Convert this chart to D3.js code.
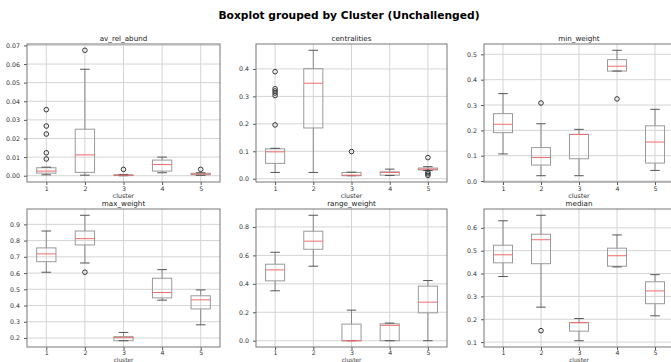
<!DOCTYPE html>
<html>
<head>
<meta charset="utf-8">
<script src="https://cdn.jsdelivr.net/npm/d3@7"></script>
<style>
  body { margin: 0; background: #fff; }
  svg { display: block; font-family: "DejaVu Sans", sans-serif; }
</style>
</head>
<body>
<div id="graphic"></div>
<script>
// clusters on the x axis of every panel
const clusters = [1, 2, 3, 4, 5];

// per cluster: [whisker low, q1, median, q3, whisker high]
const avRelAbund = [
  [0.0005, 0.0014, 0.0025, 0.0043, 0.0046],
  [0.0003, 0.0018, 0.0112, 0.0250, 0.0572],
  [0.0000, 0.0001, 0.0003, 0.0005, 0.0007],
  [0.0016, 0.0025, 0.0060, 0.0084, 0.0100],
  [0.0002, 0.0005, 0.0009, 0.0013, 0.0016]
];
const avRelAbundOut = [[0.0090, 0.0123, 0.0224, 0.0267, 0.0355], [0.0674], [0.0034], [], [0.0034]];

const centralities = [
  [0.023, 0.056, 0.098, 0.109, 0.111],
  [0.023, 0.185, 0.348, 0.401, 0.468],
  [0.011, 0.011, 0.013, 0.023, 0.024],
  [0.012, 0.013, 0.023, 0.025, 0.035],
  [0.030, 0.032, 0.035, 0.039, 0.044]
];
const centralitiesOut = [[0.196, 0.303, 0.312, 0.320, 0.328, 0.390], [], [0.099], [], [0.077, 0.024, 0.018, 0.012]];

const minWeight = [
  [0.107, 0.191, 0.224, 0.266, 0.345],
  [0.021, 0.063, 0.093, 0.132, 0.226],
  [0.021, 0.088, 0.184, 0.184, 0.204],
  [0.434, 0.434, 0.453, 0.479, 0.516],
  [0.042, 0.071, 0.154, 0.218, 0.283]
];
const minWeightOut = [[], [0.308], [], [0.324], []];

const maxWeight = [
  [0.605, 0.670, 0.718, 0.755, 0.859],
  [0.662, 0.773, 0.812, 0.859, 0.956],
  [0.183, 0.183, 0.202, 0.208, 0.234],
  [0.433, 0.447, 0.480, 0.568, 0.621],
  [0.281, 0.379, 0.435, 0.460, 0.496]
];
const maxWeightOut = [[], [0.605], [], [], []];

const rangeWeight = [
  [0.351, 0.421, 0.498, 0.538, 0.622],
  [0.524, 0.643, 0.700, 0.770, 0.882],
  [0.000, 0.000, 0.000, 0.117, 0.215],
  [0.000, 0.000, 0.108, 0.119, 0.124],
  [0.000, 0.196, 0.271, 0.384, 0.423]
];
const rangeWeightOut = [[], [], [], [], []];

const medianW = [
  [0.387, 0.447, 0.482, 0.524, 0.631],
  [0.253, 0.443, 0.548, 0.572, 0.655],
  [0.106, 0.148, 0.185, 0.185, 0.203],
  [0.429, 0.432, 0.478, 0.511, 0.569],
  [0.215, 0.268, 0.324, 0.364, 0.395]
];
const medianWOut = [[], [0.150], [], [], []];

// tick labels of each panel's y axis
const ticksAbund = [0, 0.01, 0.02, 0.03, 0.04, 0.05, 0.06, 0.07];
const ticksCentral = [0, 0.1, 0.2, 0.3, 0.4];
const ticksMin = [0, 0.1, 0.2, 0.3, 0.4, 0.5];
const ticksMax = [0.2, 0.3, 0.4, 0.5, 0.6, 0.7, 0.8, 0.9];
const ticksRange = [0, 0.2, 0.4, 0.6, 0.8];
const ticksMedian = [0.1, 0.2, 0.3, 0.4, 0.5, 0.6];

const titles = ["av_rel_abund", "centralities", "min_weight", "max_weight", "range_weight", "median"];

const panels = [
  { stats: avRelAbund, out: avRelAbundOut, ticks: ticksAbund, fmt: d3.format(".2f") },
  { stats: centralities, out: centralitiesOut, ticks: ticksCentral, fmt: d3.format(".1f") },
  { stats: minWeight, out: minWeightOut, ticks: ticksMin, fmt: d3.format(".1f") },
  { stats: maxWeight, out: maxWeightOut, ticks: ticksMax, fmt: d3.format(".1f") },
  { stats: rangeWeight, out: rangeWeightOut, ticks: ticksRange, fmt: d3.format(".1f") },
  { stats: medianW, out: medianWOut, ticks: ticksMedian, fmt: d3.format(".1f") }
];

const width = 671, height = 362;
const cols = [[27, 220], [256, 447], [484, 674]];
const rows = [[44, 182], [209, 347]];

const svg = d3.select("#graphic")
  .append("svg")
  .attr("width", width)
  .attr("height", height);

svg.append("text")
  .attr("x", 349)
  .attr("y", 19)
  .attr("text-anchor", "middle")
  .attr("font-size", 10.7)
  .attr("font-weight", "bold")
  .text("Boxplot grouped by Cluster (Unchallenged)");

panels.forEach((p, i) => {
  const [x0, x1] = cols[i % 3];
  const [y0, y1] = rows[Math.floor(i / 3)];
  const bottomRow = i >= 3;

  const x = d3.scaleLinear().domain([0.5, 5.5]).range([x0, x1]);

  // y domain like matplotlib: data range plus 5% margins
  const all = p.stats.flat().concat(p.out.flat());
  const lo = d3.min(all), hi = d3.max(all), pad = (hi - lo) * 0.05;
  const y = d3.scaleLinear().domain([lo - pad, hi + pad]).range([y1, y0]);

  const g = svg.append("g");

  // grid
  g.selectAll(".hgrid")
    .data(p.ticks)
    .join("line")
    .attr("x1", x0).attr("x2", x1)
    .attr("y1", d => y(d)).attr("y2", d => y(d))
    .attr("stroke", "#d4d4d4").attr("stroke-width", 1);
  g.selectAll(".vgrid")
    .data(clusters)
    .join("line")
    .attr("x1", d => x(d)).attr("x2", d => x(d))
    .attr("y1", y0).attr("y2", y1)
    .attr("stroke", "#d4d4d4").attr("stroke-width", 1);

  // axes
  const ay = g.append("g")
    .attr("transform", `translate(${x0},0)`)
    .call(d3.axisLeft(y).tickValues(p.ticks).tickFormat(p.fmt).tickSize(3).tickPadding(4));
  const ax = g.append("g")
    .attr("transform", `translate(0,${y1})`)
    .call(d3.axisBottom(x).tickValues(clusters).tickFormat(d3.format("d"))
      .tickSize(3).tickPadding(bottomRow ? 1 : 2));
  [ax, ay].forEach(a => {
    a.select(".domain").remove();
    a.selectAll("text").attr("font-size", 6.3).attr("fill", "#333").attr("font-family", "DejaVu Sans");
    a.selectAll("line").attr("stroke", "#555");
  });

  // boxes
  const bw = (x(1.25) - x(1));
  const box = g.selectAll(".box")
    .data(p.stats)
    .join("g");
  box.append("line")
    .attr("x1", (d, j) => x(clusters[j])).attr("x2", (d, j) => x(clusters[j]))
    .attr("y1", d => y(d[0])).attr("y2", d => y(d[1]))
    .attr("stroke", "#8a8a8a");
  box.append("line")
    .attr("x1", (d, j) => x(clusters[j])).attr("x2", (d, j) => x(clusters[j]))
    .attr("y1", d => y(d[3])).attr("y2", d => y(d[4]))
    .attr("stroke", "#8a8a8a");
  box.append("rect")
    .attr("x", (d, j) => x(clusters[j]) - bw)
    .attr("width", bw * 2)
    .attr("y", d => y(d[3]))
    .attr("height", d => Math.max(0.5, y(d[1]) - y(d[3])))
    .attr("fill", "none")
    .attr("stroke", "#9a9a9a");
  [0, 4].forEach(k => {
    box.append("line")
      .attr("x1", (d, j) => x(clusters[j]) - bw / 2).attr("x2", (d, j) => x(clusters[j]) + bw / 2)
      .attr("y1", d => y(d[k])).attr("y2", d => y(d[k]))
      .attr("stroke", "#555");
  });
  box.append("line")
    .attr("x1", (d, j) => x(clusters[j]) - bw).attr("x2", (d, j) => x(clusters[j]) + bw)
    .attr("y1", d => y(d[2])).attr("y2", d => y(d[2]))
    .attr("stroke", "#f26b6b").attr("stroke-width", 1);

  // outliers
  const pts = p.out.flatMap((vals, j) => vals.map(v => ({ c: clusters[j], v })));
  g.selectAll(".flier")
    .data(pts)
    .join("circle")
    .attr("cx", d => x(d.c))
    .attr("cy", d => y(d.v))
    .attr("r", 2.3)
    .attr("fill", "none")
    .attr("stroke", "#222")
    .attr("stroke-width", 0.9);

  // frame
  g.append("rect")
    .attr("x", x0).attr("y", y0)
    .attr("width", x1 - x0).attr("height", y1 - y0)
    .attr("fill", "none")
    .attr("stroke", "#777");

  // titles
  g.append("text")
    .attr("x", (x0 + x1) / 2).attr("y", y0 - 3.5)
    .attr("text-anchor", "middle")
    .attr("font-size", 7.2)
    .attr("fill", "#222")
    .text(titles[i]);
  g.append("text")
    .attr("x", (x0 + x1) / 2).attr("y", bottomRow ? height - 0.5 : y1 + 16)
    .attr("text-anchor", "middle")
    .attr("font-size", bottomRow ? 5.8 : 6.3)
    .attr("fill", "#333")
    .text("cluster");
});
</script>
</body>
</html>
